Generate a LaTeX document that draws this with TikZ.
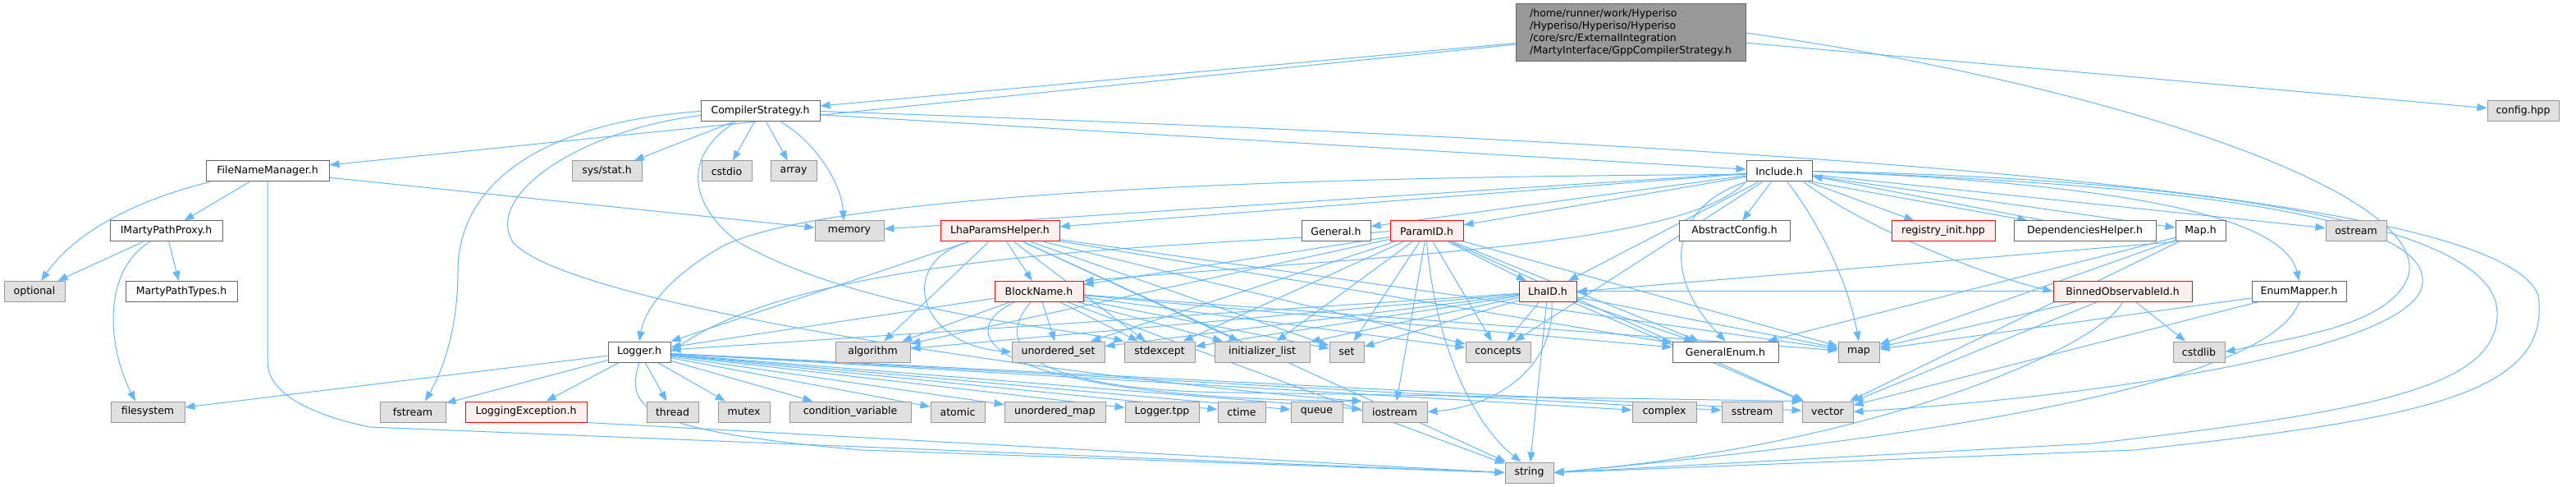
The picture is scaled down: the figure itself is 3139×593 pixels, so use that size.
\documentclass[tikz,border=0pt]{standalone}
\usepackage{fontspec}
\setmainfont{DejaVu Sans}
\usetikzlibrary{arrows.meta}
\pgfdeclarelayer{bg}
\pgfsetlayers{bg,main}
\definecolor{edgec}{HTML}{63B8FF}
\definecolor{plainb}{HTML}{666666}
\definecolor{sysb}{HTML}{999999}
\definecolor{sysf}{HTML}{E0E0E0}
\definecolor{redb}{HTML}{FF0000}
\definecolor{redf}{HTML}{FFF0F0}
\definecolor{rootf}{HTML}{999999}
\begin{document}
\begin{tikzpicture}[x=1pt,y=1pt,
  box/.style={rectangle, line width=1pt, minimum height=25pt, inner sep=0pt,
    font=\fontsize{12.5}{15}\selectfont, text=black},
  plainbox/.style={box, draw=plainb, fill=white},
  sysbox/.style={box, draw=sysb, fill=sysf},
  redbox/.style={box, draw=redb, fill=redf},
  rootbox/.style={box, draw=plainb, fill=rootf, align=left},
  dep/.style={draw=edgec, line width=1pt, -{Triangle[length=12pt,width=9pt]}}]
\useasboundingbox (0,0) rectangle (3139,-593);
% root
\node[rootbox, minimum width=280pt, minimum height=70pt] (root) at (1987,-40)
  {/home/runner/work/Hyperiso\\/Hyperiso/Hyperiso/Hyperiso\\/core/src/ExternalIntegration\\/MartyInterface/GppCompilerStrategy.h};
% row 1
\node[plainbox, minimum width=145pt] (CS) at (926.5,-135.5) {CompilerStrategy.h};
\node[sysbox, minimum width=87pt] (config) at (3074.5,-135.5) {config.hpp};
% row 2
\node[plainbox, minimum width=150pt] (FNM) at (326,-208.5) {FileNameManager.h};
\node[sysbox, minimum width=85pt] (sysstat) at (739.5,-208.5) {sys/stat.h};
\node[sysbox, minimum width=61pt] (cstdio) at (885.5,-208.5) {cstdio};
\node[sysbox, minimum width=56pt] (array) at (967,-208.5) {array};
\node[plainbox, minimum width=80pt] (Include) at (2168,-208.5) {Include.h};
% row 3
\node[plainbox, minimum width=137pt] (IMPP) at (202.5,-281.5) {IMartyPathProxy.h};
\node[sysbox, minimum width=84pt] (memory) at (1035,-281.5) {memory};
\node[redbox, minimum width=145pt] (LPH) at (1218.5,-281.5) {LhaParamsHelper.h};
\node[plainbox, minimum width=84pt] (General) at (1628,-281.5) {General.h};
\node[redbox, minimum width=89pt] (ParamID) at (1738.5,-281.5) {ParamID.h};
\node[plainbox, minimum width=135pt] (AbsConf) at (2113.5,-281.5) {AbstractConfig.h};
\node[redbox, minimum width=126pt] (registry) at (2368,-281.5) {registry\_init.hpp};
\node[plainbox, minimum width=173pt] (DepH) at (2540.5,-281.5) {DependenciesHelper.h};
\node[plainbox, minimum width=61pt] (Map) at (2681.5,-281.5) {Map.h};
\node[sysbox, minimum width=74pt] (ostream) at (2871,-281.5) {ostream};
% row 4
\node[sysbox, minimum width=74pt] (optional) at (42,-355) {optional};
\node[plainbox, minimum width=136pt] (MPT) at (221,-355) {MartyPathTypes.h};
\node[redbox, minimum width=108pt] (BlockName) at (1266,-355) {BlockName.h};
\node[redbox, minimum width=70pt] (LhaID) at (1886,-355) {LhaID.h};
\node[redbox, minimum width=169pt] (Binned) at (2586.5,-355) {BinnedObservableId.h};
\node[plainbox, minimum width=115pt] (EnumMapper) at (2801.5,-355) {EnumMapper.h};
% row 5
\node[plainbox, minimum width=76pt] (Logger) at (779,-428.5) {Logger.h};
\node[sysbox, minimum width=91pt] (algorithm) at (1063.5,-428.5) {algorithm};
\node[sysbox, minimum width=113pt] (uset) at (1289.5,-428.5) {unordered\_set};
\node[sysbox, minimum width=86pt] (stdexcept) at (1413,-428.5) {stdexcept};
\node[sysbox, minimum width=116pt] (initlist) at (1538,-428.5) {initializer\_list};
\node[sysbox, minimum width=42pt] (set) at (1641,-428.5) {set};
\node[sysbox, minimum width=79pt] (concepts) at (1825.5,-428.5) {concepts};
\node[plainbox, minimum width=129pt] (GenEnum) at (2102.5,-428.5) {GeneralEnum.h};
\node[sysbox, minimum width=50pt] (map) at (2265,-428.5) {map};
\node[sysbox, minimum width=63pt] (cstdlib) at (2679.5,-428.5) {cstdlib};
% row 6
\node[sysbox, minimum width=90pt] (filesystem) at (180,-501.5) {filesystem};
\node[sysbox, minimum width=80pt] (fstream) at (503,-501.5) {fstream};
\node[redbox, minimum width=148pt] (LogExc) at (641,-501.5) {LoggingException.h};
\node[sysbox, minimum width=63pt] (thread) at (819.5,-501.5) {thread};
\node[sysbox, minimum width=63pt] (mutex) at (906.5,-501.5) {mutex};
\node[sysbox, minimum width=148pt] (condvar) at (1036,-501.5) {condition\_variable};
\node[sysbox, minimum width=66pt] (atomic) at (1167,-501.5) {atomic};
\node[sysbox, minimum width=123pt] (umap) at (1285.5,-501.5) {unordered\_map};
\node[sysbox, minimum width=90pt] (Ltpp) at (1416,-501.5) {Logger.tpp};
\node[sysbox, minimum width=58pt] (ctime) at (1513,-501.5) {ctime};
\node[sysbox, minimum width=63pt] (queue) at (1604.5,-501.5) {queue};
\node[sysbox, minimum width=79pt] (iostream) at (1699.5,-501.5) {iostream};
\node[sysbox, minimum width=78pt] (complex) at (2028,-501.5) {complex};
\node[sysbox, minimum width=74pt] (sstream) at (2135,-501.5) {sstream};
\node[sysbox, minimum width=62pt] (vector) at (2227,-501.5) {vector};
% row 7
\node[sysbox, minimum width=59pt] (string) at (1863.5,-575.5) {string};

\begin{pgfonlayer}{bg}
\fill[white] (0,0) rectangle (3139,-593);
\foreach \a/\b in {root/CS, root/FNM, root/config,
  CS/Include, CS/sysstat, CS/cstdio, CS/array,
  FNM/IMPP, FNM/memory, IMPP/optional, IMPP/MPT,
  Include/memory, Include/LPH, Include/General, Include/ParamID, Include/AbsConf,
  Include/registry, Include/Map, Include/ostream, Include/LhaID, Include/concepts,
  LPH/BlockName, LPH/Logger, LPH/algorithm, LPH/stdexcept, LPH/initlist, LPH/set,
  LPH/concepts, LPH/map, LPH/GenEnum, LPH/string,
  ParamID/LhaID, ParamID/BlockName, ParamID/algorithm, ParamID/uset, ParamID/stdexcept,
  ParamID/initlist, ParamID/set, ParamID/concepts, ParamID/GenEnum, ParamID/map,
  ParamID/iostream, ParamID/vector,
  LhaID/Logger, LhaID/algorithm, LhaID/uset, LhaID/stdexcept, LhaID/initlist, LhaID/set,
  LhaID/concepts, LhaID/GenEnum, LhaID/map, LhaID/string, LhaID/vector,
  BlockName/Logger, BlockName/algorithm, BlockName/uset, BlockName/stdexcept,
  BlockName/initlist, BlockName/set, BlockName/concepts, BlockName/GenEnum,
  BlockName/map, BlockName/string,
  Binned/cstdlib, Binned/map, Binned/vector, Binned/LhaID,
  EnumMapper/map, EnumMapper/vector,
  Map/map, Map/GenEnum, Map/vector,
  Logger/filesystem, Logger/fstream, Logger/LogExc, Logger/thread, Logger/mutex,
  Logger/condvar, Logger/atomic, Logger/umap, Logger/Ltpp, Logger/ctime, Logger/queue,
  Logger/iostream, Logger/complex, Logger/sstream, Logger/vector}
  \draw[dep] (\a) -- (\b);
% curved / anchored connectors
\draw[dep] (root.east) .. controls (2550,-100) and (2960,-230) .. (2935,-335)
  .. controls (2915,-395) and (2800,-410) .. (cstdlib.east);
\draw[dep] (CS.east) .. controls (2300,-180) and (3050,-240) .. (3093,-360)
  .. controls (3110,-480) and (2950,-510) .. (2600,-548) -- (string.east);
\draw[dep] (Include.east) .. controls (2600,-215) and (3040,-260) .. (3043,-380)
  .. controls (3045,-470) and (2900,-500) .. (2550,-540) -- (string.east);
\draw[dep] (Include.east) .. controls (2650,-225) and (2960,-260) .. (2952,-345)
  .. controls (2945,-420) and (2600,-480) .. (vector.east);
\draw[dep] ([xshift=25pt]CS.south) .. controls (990,-170) and (1025,-220) .. ([xshift=-7pt]memory.north);
\draw[dep] (CS.west) .. controls (650,-150) and (558,-230) .. (558,-330)
  .. controls (558,-400) and (540,-450) .. ([xshift=15pt]fstream.north);
\draw[dep] ([yshift=-5pt]CS.west) .. controls (700,-160) and (590,-240) .. (625,-295)
  .. controls (700,-380) and (1400,-470) .. (iostream.north west);
\draw[dep] ([xshift=-30pt]CS.south) .. controls (830,-190) and (840,-250) .. (900,-295)
  .. controls (1050,-380) and (1300,-400) .. (stdexcept.north west);
\draw[dep] ([xshift=-70pt]FNM.south) .. controls (160,-245) and (90,-285) .. ([xshift=8pt]optional.north);
\draw[dep] (FNM.south) -- (326,-440) .. controls (326,-480) and (380,-505) .. (450,-520) -- (string.west);
\draw[dep] ([xshift=-20pt]IMPP.south) .. controls (125,-330) and (130,-420) .. ([xshift=-15pt]filesystem.north);
\draw[dep] ([xshift=-38pt]LPH.south) .. controls (1090,-320) and (1120,-420) .. (uset.west);
\draw[dep] ([yshift=-4pt]Include.west) .. controls (1500,-215) and (1000,-240) .. (880,-300)
  .. controls (810,-340) and (785,-380) .. (Logger.north);
\draw[dep] (ParamID.west) .. controls (1500,-300) and (1000,-300) .. (Logger.east);
\draw[dep] (ParamID.south) .. controls (1750,-430) and (1800,-520) .. ([xshift=-10pt]string.north);
\draw[dep] (Include.south west) .. controls (2050,-300) and (1700,-310) .. (BlockName.north east);
\draw[dep] (Include.south west) .. controls (2040,-250) and (2020,-330) .. (GenEnum.north);
\draw[dep] ([xshift=10pt]Include.south) .. controls (2230,-290) and (2255,-360) .. (map.north);
\draw[dep] (Include.east) .. controls (2500,-220) and (2780,-250) .. (EnumMapper.north);
\draw[dep] ([xshift=30pt]Include.south) .. controls (2260,-270) and (2400,-330) .. (Binned.west);
\draw[dep] (Include.south east) -- ([xshift=-70pt]DepH.north);
\draw[dep] ([xshift=-50pt]DepH.north) -- ([yshift=-6pt]Include.east);
\draw[dep] (Map.south west) -- (LhaID.east);
\draw[dep] ([xshift=5pt]LhaID.south) .. controls (1895,-450) and (1820,-495) .. (iostream.east);
\draw[dep] ([xshift=-30pt]BlockName.south) .. controls (1150,-410) and (1220,-485) .. (iostream.north west);
\draw[dep] ([xshift=-10pt]BlockName.south) .. controls (1210,-420) and (1250,-475) .. (1500,-478) -- (vector.north west);
\draw[dep] (Binned.south) .. controls (2560,-420) and (2300,-540) .. (string.east);
\draw[dep] (EnumMapper.south) .. controls (2780,-430) and (2600,-510) .. (string.east);
\draw[dep] (Logger.south) .. controls (760,-500) and (790,-525) .. (1050,-548) -- (string.west);
\draw[dep] (LogExc.south east) -- (string.west);
\end{pgfonlayer}
\end{tikzpicture}
\end{document}
